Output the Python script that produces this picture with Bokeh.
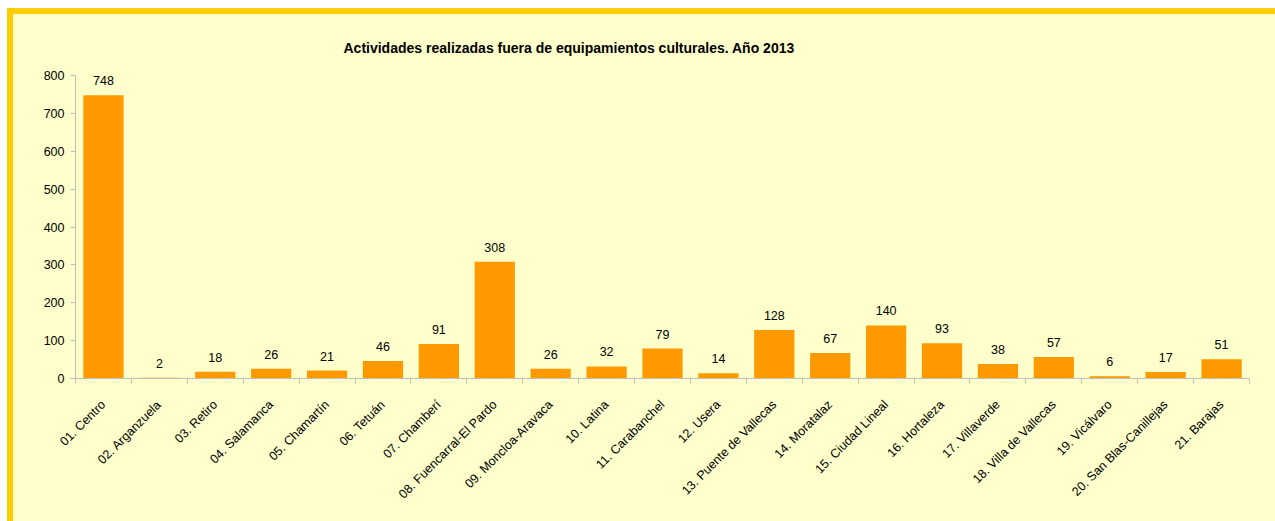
import math
from bokeh.plotting import figure
from bokeh.models import ColumnDataSource, FixedTicker, LabelSet, Title
from bokeh.core.properties import value
from bokeh.embed import file_html
from bokeh.resources import INLINE

districts = ["01. Centro", "02. Arganzuela", "03. Retiro", "04. Salamanca", "05. Chamartín",
             "06. Tetuán", "07. Chamberí", "08. Fuencarral-El Pardo", "09. Moncloa-Aravaca",
             "10. Latina", "11. Carabanchel", "12. Usera", "13. Puente de Vallecas",
             "14. Moratalaz", "15. Ciudad Lineal", "16. Hortaleza", "17. Villaverde",
             "18. Villa de Vallecas", "19. Vicálvaro", "20. San Blas-Canillejas", "21. Barajas"]
values = [748, 2, 18, 26, 21, 46, 91, 308, 26, 32, 79, 14, 128, 67, 140, 93, 38, 57, 6, 17, 51]
y_ticks = [0, 100, 200, 300, 400, 500, 600, 700, 800]
title_text = "Actividades realizadas fuera de equipamientos culturales. Año 2013"

FONT = "Liberation Sans"
BG = "#FFFFCC"
AXIS = "#BEBEBE"

n = len(districts)
pos = list(range(1, n + 1))
src = ColumnDataSource(dict(x=pos, v=values, lab=[str(v) for v in values]))

p = figure(width=1262, height=495, x_range=(0.5, n + 0.5), y_range=(0, 800),
           output_backend="svg", toolbar_location=None,
           min_border_left=62, min_border_right=26, min_border_top=61, min_border_bottom=131,
           background_fill_color=BG, border_fill_color=BG, outline_line_color=None)
p.styles = {"box-shadow": ("-6px 0 0 0 #FFCC00, 0 -6px 0 0 #FFCC00, -6px -6px 0 0 #FFCC00, "
                           "0 14px 0 0 #FFFFCC, -6px 14px 0 0 #FFCC00"),
            "background-color": BG,
            "margin-left": "13px", "margin-top": "14px"}

p.title = Title(text=title_text, align="left", offset=268, text_font=FONT,
                text_font_size="14px", text_font_style="bold", text_color="#000000",
                vertical_align="top", standoff=36)

p.vbar(x="x", top="v", width=0.72, source=src, fill_color="#FF9900", line_color=None)

labels = LabelSet(x="x", y="v", text="lab", source=src, text_align="center",
                  text_baseline="bottom", y_offset=10, text_font=value(FONT),
                  text_font_size=value("12.5px"), text_color="#000000")
p.add_layout(labels)

p.xgrid.visible = False
p.ygrid.visible = False

# x axis
p.xaxis.ticker = FixedTicker(ticks=pos, minor_ticks=[i + 0.5 for i in range(0, n + 1)])
p.xaxis.major_label_overrides = {i: d for i, d in zip(pos, districts)}
p.xaxis.major_label_orientation = math.pi / 4
p.xaxis.major_tick_out = 0
p.xaxis.major_tick_in = 0
p.xaxis.minor_tick_out = 5
p.xaxis.minor_tick_in = 0
p.xaxis.axis_line_color = AXIS
p.xaxis.minor_tick_line_color = AXIS
p.xaxis.major_label_standoff = 19
p.xaxis.major_label_text_font = FONT
p.xaxis.major_label_text_font_size = "12.5px"
p.xaxis.major_label_text_color = "#000000"

# y axis
p.yaxis.ticker = FixedTicker(ticks=y_ticks)
p.yaxis.major_tick_out = 5
p.yaxis.major_tick_in = 0
p.yaxis.minor_tick_line_color = None
p.yaxis.axis_line_color = AXIS
p.yaxis.major_tick_line_color = AXIS
p.yaxis.major_label_standoff = 6
p.yaxis.major_label_text_font = FONT
p.yaxis.major_label_text_font_size = "12.5px"
p.yaxis.major_label_text_color = "#000000"

open("out.html", "w").write(file_html(p, INLINE))
